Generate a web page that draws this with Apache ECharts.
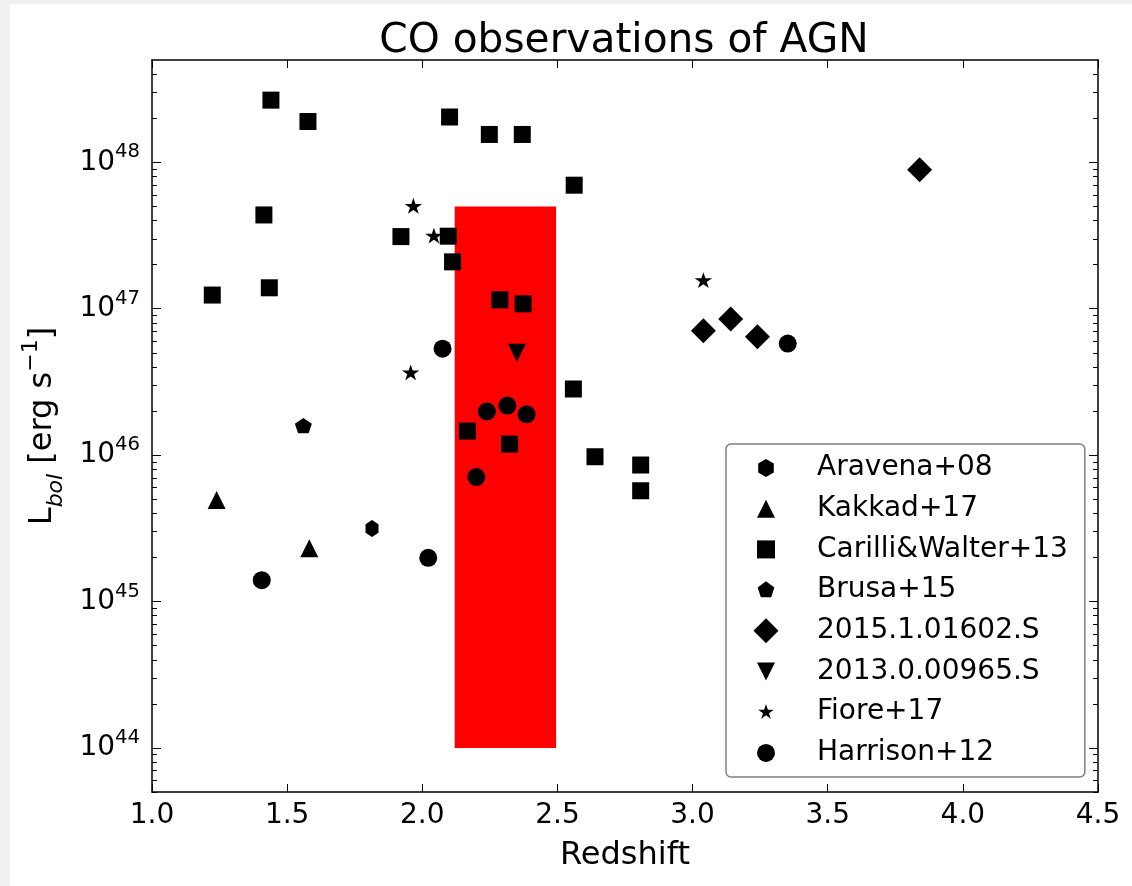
<!DOCTYPE html>
<html>
<head>
<meta charset="utf-8">
<title>CO observations of AGN</title>
<script src="https://cdn.jsdelivr.net/npm/echarts@6/dist/echarts.min.js"></script>
<style>
  html, body { margin: 0; padding: 0; background: #f0f0f0; }
  #main { position: absolute; left: 10px; top: 4px; width: 1122px; height: 882px; background: #fff; }
</style>
</head>
<body>
<div id="main"></div>
<script>
// redshift / bolometric luminosity
var aravenaZ = [1.814];
var aravenaL = [3.16e45];
var kakkadZ = [1.239, 1.582];
var kakkadL = [4.93e45, 2.31e45];
var carilliZ = [1.223, 1.414, 1.434, 1.440, 1.577, 1.921, 2.096, 2.101, 2.112, 2.167,
                2.248, 2.287, 2.323, 2.370, 2.373, 2.559, 2.562, 2.639, 2.808, 2.808];
var carilliL = [1.24e47, 4.37e47, 1.39e47, 2.66e48, 1.90e48, 3.11e47, 3.13e47, 2.04e48, 2.09e47, 1.46e46,
                1.55e48, 1.15e47, 1.19e46, 1.55e48, 1.08e47, 2.83e46, 6.98e47, 9.75e45, 8.56e45, 5.71e45];
var brusaZ = [1.560];
var brusaL = [1.59e46];
var alma15Z = [3.040, 3.141, 3.240, 3.840];
var alma15L = [7.08e46, 8.51e46, 6.44e46, 8.89e47];
var alma13Z = [2.350];
var alma13L = [5.01e46];
var fioreZ = [1.957, 1.967, 2.043, 3.040];
var fioreL = [3.68e46, 5.05e47, 3.16e47, 1.57e47];
var harrisonZ = [1.406, 2.022, 2.075, 2.200, 2.239, 2.315, 2.386, 3.352];
var harrisonL = [1.40e45, 1.99e45, 5.33e46, 7.08e45, 1.99e46, 2.18e46, 1.90e46, 5.78e46];

// red target region
var boxZ = [2.12, 2.495];
var boxL = [1e44, 5e47];

var yMajor = [1e44, 1e45, 1e46, 1e47, 1e48];
var yMinor = [];
for (var e = 43; e <= 48; e++) {
    for (var k = 2; k <= 9; k++) {
        var v = k * Math.pow(10, e);
        if (v >= 5e43 && v <= 5e48) yMinor.push(v);
    }
}

function pairs(z, l) {
    return z.map(function (v, i) { return [v, l[i]]; });
}

// marker shapes for the plot (scaled to symbolSize)
var HEXAGON = 'path://M0,-100L-86.6,-50L-86.6,50L0,100L86.6,50L86.6,-50Z';
var PENTAGON = 'path://M0,-100L95.1,-30.9L58.8,80.9L-58.8,80.9L-95.1,-30.9Z';
var STAR = 'path://M0,-100L22.45,-30.9L95.1,-30.9L36.3,11.8L58.8,80.9L0,38.2L-58.8,80.9L-36.3,11.8L-95.1,-30.9L-22.45,-30.9Z';
var TRI_DOWN = 'path://M-100,-100L100,-100L0,100Z';

// legend icons: drawn inside a fixed 26px frame so that they keep their own sizes
var FRAME = 'M-13,-13M13,13';
var legendIcons = {
    'Aravena+08': 'path://' + FRAME + 'M0,-9L-7.8,-4.5L-7.8,4.5L0,9L7.8,4.5L7.8,-4.5Z',
    'Kakkad+17': 'path://' + FRAME + 'M0,-9L9,9L-9,9Z',
    'Carilli&Walter+13': 'path://' + FRAME + 'M-9,-9L9,-9L9,9L-9,9Z',
    'Brusa+15': 'path://' + FRAME + 'M0,-8.8L8.37,-2.72L5.17,7.12L-5.17,7.12L-8.37,-2.72Z',
    '2015.1.01602.S': 'path://' + FRAME + 'M0,-12.5L12.5,0L0,12.5L-12.5,0Z',
    '2013.0.00965.S': 'path://' + FRAME + 'M-9,-9L9,-9L0,9Z',
    'Fiore+17': 'path://' + FRAME + 'M0,-8.3L1.87,-2.56L7.9,-2.56L3.01,0.98L4.88,6.71L0,3.17L-4.88,6.71L-3.01,0.98L-7.9,-2.56L-1.87,-2.56Z',
    'Harrison+12': 'path://' + FRAME + 'M-9,0A9,9,0,1,0,9,0A9,9,0,1,0,-9,0Z'
};
var legendNames = ['Aravena+08', 'Kakkad+17', 'Carilli&Walter+13', 'Brusa+15',
                   '2015.1.01602.S', '2013.0.00965.S', 'Fiore+17', 'Harrison+12'];

function pts(name, symbol, size, z, l) {
    return {
        name: name,
        type: 'scatter',
        symbol: symbol,
        symbolSize: size,
        symbolKeepAspect: true,
        data: pairs(z, l),
        itemStyle: { color: '#000', opacity: 1 },
        emphasis: { disabled: true },
        silent: true,
        z: 3
    };
}

var black = { color: '#000', width: 1.5 };
var tickStyle = { color: '#000', width: 1 };

var myChart = echarts.init(document.getElementById('main'));

var option = {
    animation: false,
    backgroundColor: '#fff',
    textStyle: { fontFamily: 'DejaVu Sans', color: '#000' },
    title: {
        text: 'CO observations of AGN',
        left: 609,
        top: 12,
        textAlign: 'center',
        textStyle: { fontSize: 40.7, fontWeight: 'normal', color: '#000', fontFamily: 'DejaVu Sans' }
    },
    grid: { left: 142, top: 56, width: 946, height: 732, containLabel: false, outerBoundsMode: 'none' },
    legend: {
        data: legendNames.map(function (n) { return { name: n, icon: legendIcons[n] }; }),
        orient: 'vertical',
        left: 716,
        top: 440,
        itemWidth: 26,
        itemHeight: 26,
        itemGap: 12.7,
        symbolKeepAspect: true,
        padding: [10, 17, 10, 27],
        borderColor: '#808080',
        borderWidth: 1.5,
        borderRadius: 5,
        backgroundColor: '#fff',
        selectedMode: false,
        itemStyle: { color: '#000' },
        textStyle: { fontSize: 28, lineHeight: 28, color: '#000', fontFamily: 'DejaVu Sans', padding: [0, 0, 0, 33] }
    },
    xAxis: [{
        type: 'value', min: 1, max: 4.5, interval: 0.5, position: 'bottom',
        name: 'Redshift', nameLocation: 'middle', nameGap: 48, nameMoveOverlap: false,
        nameTextStyle: { fontSize: 32, color: '#000' },
        axisLine: { show: true, onZero: false, lineStyle: black },
        axisTick: { show: true, inside: true, length: 8, lineStyle: tickStyle },
        axisLabel: { fontSize: 28, color: '#000', margin: 10, formatter: function (v) { return v.toFixed(1); } },
        splitLine: { show: false }
    }, {
        type: 'value', min: 1, max: 4.5, interval: 0.5, position: 'top',
        axisLine: { show: true, onZero: false, lineStyle: black },
        axisTick: { show: true, inside: true, length: 8, lineStyle: tickStyle },
        axisLabel: { show: false },
        splitLine: { show: false }
    }],
    yAxis: [{
        type: 'log', min: 5e43, max: 5e48, position: 'left',
        name: '{m|L}{sub|bol}{m| [erg s}{sup|\u22121}{m|]}',
        nameLocation: 'middle', nameGap: 85, nameRotate: 90, nameMoveOverlap: false,
        nameTextStyle: {
            color: '#000',
            rich: {
                m: { fontSize: 32, lineHeight: 32, verticalAlign: 'bottom', padding: [0, 0, 8, 0], color: '#000' },
                sub: { fontSize: 22, lineHeight: 22, verticalAlign: 'bottom', fontStyle: 'italic', color: '#000' },
                sup: { fontSize: 22, lineHeight: 22, verticalAlign: 'bottom', padding: [0, 0, 25, 0], color: '#000' }
            }
        },
        axisLine: { show: true, onZero: false, lineStyle: black },
        axisTick: { show: true, inside: true, length: 9, customValues: yMajor, lineStyle: tickStyle },
        axisLabel: {
            customValues: yMajor,
            margin: 12,
            formatter: function (v) {
                return '{b|10}{s|' + Math.round(Math.log(v) / Math.LN10) + '}';
            },
            rich: {
                b: { fontSize: 28, lineHeight: 28, verticalAlign: 'bottom', color: '#000' },
                s: { fontSize: 19.6, lineHeight: 20, verticalAlign: 'bottom', padding: [0, 0, 14, 0], color: '#000' }
            }
        },
        splitLine: { show: false }
    }, {
        type: 'log', min: 5e43, max: 5e48, position: 'left',
        axisLine: { show: false },
        axisTick: { show: true, inside: true, length: 5, customValues: yMinor, lineStyle: tickStyle },
        axisLabel: { show: false },
        splitLine: { show: false }
    }, {
        type: 'log', min: 5e43, max: 5e48, position: 'right',
        axisLine: { show: true, onZero: false, lineStyle: black },
        axisTick: { show: true, inside: true, length: 9, customValues: yMajor, lineStyle: tickStyle },
        axisLabel: { show: false },
        splitLine: { show: false }
    }, {
        type: 'log', min: 5e43, max: 5e48, position: 'right',
        axisLine: { show: false },
        axisTick: { show: true, inside: true, length: 5, customValues: yMinor, lineStyle: tickStyle },
        axisLabel: { show: false },
        splitLine: { show: false }
    }],
    series: [
        {
            type: 'scatter',
            data: [],
            silent: true,
            z: 1,
            markArea: {
                silent: true,
                label: { show: false },
                itemStyle: { color: '#ff0000', opacity: 1 },
                emphasis: { disabled: true },
                data: [[{ xAxis: boxZ[0], yAxis: boxL[0] }, { xAxis: boxZ[1], yAxis: boxL[1] }]]
            }
        },
        pts('Aravena+08', HEXAGON, [15, 17], aravenaZ, aravenaL),
        pts('Kakkad+17', 'triangle', 18, kakkadZ, kakkadL),
        pts('Carilli&Walter+13', 'rect', 17, carilliZ, carilliL),
        pts('Brusa+15', PENTAGON, [17, 16], brusaZ, brusaL),
        pts('2015.1.01602.S', 'diamond', 25, alma15Z, alma15L),
        pts('2013.0.00965.S', TRI_DOWN, 18, alma13Z, alma13L),
        pts('Fiore+17', STAR, [17.5, 16.6], fioreZ, fioreL),
        pts('Harrison+12', 'circle', 18, harrisonZ, harrisonL)
    ]
};

myChart.setOption(option);
</script>
</body>
</html>
